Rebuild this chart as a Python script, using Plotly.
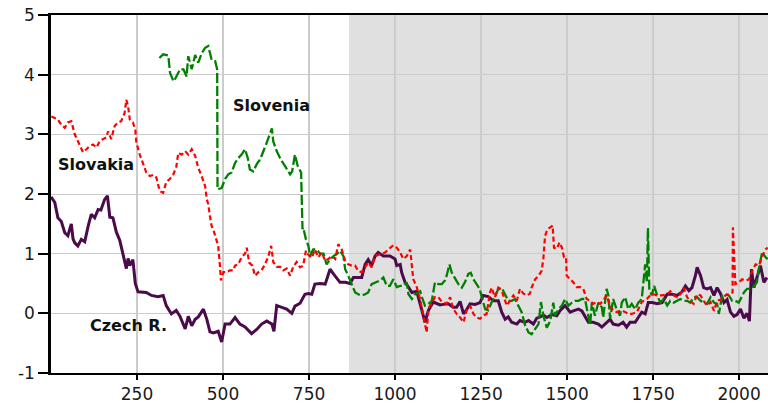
import plotly.graph_objects as go

# ---- data ----
cz_x = [0,11,20,30,40,49,59,64,69,78,88,98,108,117,127,137,145,156,164,171,180,190,200,209,219,224,229,238,245,253,262,277,292,311,326,335,350,364,375,390,399,409,419,428,443,453,462,472,486,496,506,520,535,549,564,583,598,612,627,642,648,656,671,685,700,709,724,738,748,758,767,782,797,811,821,830,840,855,869,879,893,903,913,922,932,942,951,966,985,1000,1005,1015,1019,1029,1039,1049,1063,1073,1082,1087,1097,1111,1121,1131,1140,1155,1169,1179,1189,1199,1208,1218,1233,1247,1256,1271,1286,1300,1310,1320,1329,1339,1354,1363,1378,1388,1402,1412,1422,1431,1441,1456,1470,1480,1494,1509,1518,1533,1543,1552,1562,1576,1591,1601,1615,1625,1634,1649,1663,1673,1683,1698,1707,1717,1727,1736,1747,1762,1776,1791,1805,1820,1834,1844,1854,1863,1873,1878,1888,1897,1907,1917,1927,1936,1946,1956,1965,1975,1985,1994,2004,2014,2023,2030,2036,2043,2052,2062,2072,2081]
cz_y = [1.95,1.86,1.6,1.54,1.35,1.3,1.5,1.25,1.18,1.13,1.24,1.2,1.46,1.66,1.6,1.74,1.73,1.91,1.97,1.61,1.6,1.36,1.22,1.02,0.75,0.92,0.8,0.9,0.5,0.36,0.36,0.35,0.3,0.28,0.3,0.13,-0.01,0.05,-0.05,-0.26,-0.05,-0.21,-0.1,-0.06,0.07,-0.1,-0.31,-0.33,-0.3,-0.48,-0.18,-0.18,-0.07,-0.18,-0.23,-0.34,-0.27,-0.18,-0.13,-0.18,-0.3,0.13,0.1,0.07,0.0,0.12,0.17,0.32,0.33,0.32,0.49,0.5,0.49,0.74,0.66,0.6,0.52,0.52,0.5,0.6,0.6,0.6,0.82,0.9,0.8,0.96,1.02,0.96,0.96,0.91,0.8,0.82,0.69,0.52,0.44,0.35,0.37,0.13,-0.04,-0.15,0.05,0.19,0.16,0.14,0.15,0.16,0.1,0.1,0.2,-0.01,0.06,0.16,0.15,0.18,0.3,0.28,0.21,0.21,0.02,-0.1,-0.06,-0.15,-0.18,-0.12,-0.15,-0.12,-0.18,-0.08,-0.06,-0.03,-0.07,-0.02,-0.04,0.05,0.13,0.02,0.04,0.07,0.04,-0.05,-0.15,-0.15,-0.18,-0.23,-0.15,-0.1,-0.18,-0.2,-0.15,-0.23,-0.15,-0.15,-0.07,0.02,-0.01,0.18,0.18,0.16,0.18,0.32,0.32,0.3,0.36,0.46,0.38,0.43,0.63,0.77,0.63,0.43,0.41,0.43,0.3,0.43,0.33,0.18,0.23,0.02,-0.05,-0.02,0.07,-0.08,0.0,-0.13,0.74,0.43,0.6,0.8,0.52,0.6]

sk_x = [1,11,20,30,40,49,59,69,78,88,93,103,112,122,132,142,151,161,166,175,185,195,204,214,219,224,229,238,245,248,258,267,277,287,297,306,316,326,335,345,355,364,370,380,390,399,409,419,428,438,448,453,457,462,467,472,482,486,491,494,501,511,520,530,535,544,554,564,569,576,585,593,603,612,622,632,640,646,656,666,675,685,695,704,714,724,733,741,748,758,767,777,787,797,806,816,826,835,845,855,864,874,884,893,903,913,922,932,942,956,971,980,995,1005,1015,1024,1034,1044,1049,1053,1063,1073,1082,1087,1092,1097,1107,1116,1126,1136,1150,1160,1169,1179,1189,1199,1208,1218,1228,1237,1247,1256,1266,1276,1281,1290,1300,1310,1320,1325,1334,1344,1354,1363,1373,1383,1392,1397,1407,1417,1426,1431,1436,1443,1451,1458,1462,1470,1478,1485,1491,1497,1499,1509,1518,1528,1538,1547,1557,1567,1576,1586,1596,1605,1615,1625,1634,1644,1659,1669,1678,1688,1703,1717,1732,1746,1760,1776,1791,1800,1810,1820,1829,1839,1849,1858,1868,1878,1888,1897,1907,1917,1927,1936,1951,1960,1970,1981,1982,1985,1988,1989,1999,2009,2019,2029,2038,2048,2058,2067,2077,2083]
sk_y = [3.3,3.28,3.25,3.16,3.11,3.2,3.22,3.0,2.89,2.78,2.7,2.75,2.8,2.83,2.78,2.89,2.92,2.95,3.05,2.92,3.14,3.2,3.22,3.36,3.58,3.47,3.25,3.2,3.08,2.87,2.66,2.52,2.36,2.3,2.32,2.28,2.05,2.02,2.2,2.25,2.32,2.45,2.69,2.66,2.72,2.66,2.75,2.64,2.44,2.3,2.13,1.91,1.83,1.63,1.46,1.4,1.21,1.13,0.8,0.55,0.69,0.69,0.72,0.72,0.8,0.82,0.94,1.0,1.1,0.85,0.8,0.63,0.69,0.72,0.82,0.96,1.13,0.86,0.78,0.78,0.72,0.75,0.63,0.78,0.86,0.77,0.8,1.05,0.98,0.93,1.07,0.94,1.02,0.88,0.91,0.96,0.91,1.16,1.07,0.88,0.82,0.8,0.8,0.71,0.69,0.77,0.85,0.77,0.96,0.99,1.02,1.07,1.14,1.1,1.02,0.91,0.96,1.07,0.8,0.57,0.44,0.24,-0.04,-0.21,-0.32,0.08,0.17,0.27,0.27,0.19,0.16,0.27,0.08,-0.01,-0.07,-0.15,0.05,0.13,-0.01,-0.07,-0.09,-0.04,-0.01,0.35,0.43,0.27,0.43,0.38,0.21,0.13,0.21,0.3,0.21,0.41,0.33,0.3,0.33,0.43,0.57,0.63,0.71,0.91,1.3,1.41,1.44,1.47,1.1,1.08,1.19,1.1,0.94,0.94,0.63,0.58,0.52,0.44,0.44,0.41,0.24,0.21,0.16,0.19,0.16,0.21,0.3,0.13,0.05,0.02,0.05,0.02,-0.01,-0.01,0.02,0.19,0.24,0.33,0.3,0.3,0.32,0.37,0.3,0.27,0.32,0.43,0.27,0.21,0.16,0.32,0.3,0.21,0.13,0.19,0.04,0.21,0.24,0.3,0.32,0.35,1.44,0.96,0.74,0.49,0.52,0.57,0.55,0.57,0.71,0.82,0.8,0.96,1.07,1.1]

si_x = [315,326,341,346,356,360,375,385,394,399,409,419,428,438,448,457,467,477,483,484,496,506,515,525,535,544,554,564,572,578,588,598,608,617,627,634,642,646,656,666,675,685,695,701,709,717,727,731,733,741,748,753,762,772,782,792,801,811,821,830,840,850,855,864,874,884,893,903,913,922,932,942,956,966,976,985,995,1005,1015,1024,1034,1039,1049,1058,1073,1078,1087,1097,1107,1116,1126,1136,1145,1150,1158,1165,1174,1184,1194,1203,1213,1220,1228,1237,1246,1252,1262,1271,1281,1290,1300,1310,1320,1329,1339,1349,1358,1368,1378,1388,1397,1407,1417,1424,1431,1441,1451,1460,1465,1475,1485,1494,1504,1514,1523,1533,1543,1552,1562,1567,1572,1581,1591,1601,1605,1615,1620,1625,1634,1644,1654,1659,1669,1678,1688,1698,1707,1717,1727,1732,1735,1739,1746,1753,1762,1771,1781,1791,1800,1810,1820,1829,1839,1849,1858,1868,1878,1888,1897,1907,1917,1927,1936,1941,1951,1960,1970,1980,1989,1999,2007,2014,2023,2033,2043,2052,2057,2067,2077,2083]
si_y = [4.28,4.34,4.32,4.03,3.89,3.92,4.09,4.09,3.97,4.31,4.09,4.33,4.2,4.36,4.45,4.48,4.25,4.23,4.09,2.08,2.1,2.25,2.33,2.36,2.52,2.6,2.66,2.75,2.6,2.41,2.38,2.5,2.58,2.7,2.86,2.97,3.1,2.88,2.72,2.6,2.52,2.44,2.33,2.38,2.66,2.47,2.36,1.41,1.44,1.24,1.13,0.96,1.07,1.07,1.0,1.0,0.82,0.9,0.96,0.99,1.05,0.96,0.74,0.63,0.49,0.35,0.32,0.3,0.32,0.35,0.49,0.52,0.55,0.6,0.46,0.46,0.57,0.44,0.46,0.46,0.52,0.32,0.24,0.32,0.37,0.27,0.13,0.16,0.21,0.52,0.49,0.49,0.55,0.63,0.82,0.68,0.6,0.49,0.43,0.52,0.66,0.68,0.57,0.49,0.41,0.27,0.07,0.05,0.19,0.27,0.41,0.43,0.32,0.21,0.21,0.24,0.13,0.02,-0.2,-0.32,-0.35,-0.27,-0.18,0.19,-0.04,-0.24,-0.13,0.18,-0.04,0.07,0.13,0.24,0.13,0.18,0.21,0.21,0.24,0.24,-0.04,-0.2,0.18,-0.04,0.18,0.1,-0.07,0.41,0.3,-0.09,0.24,0.07,-0.04,0.18,0.27,0.07,0.16,0.07,0.18,0.24,0.82,0.52,1.43,0.41,0.3,0.46,0.3,0.18,0.24,0.13,0.21,0.18,0.21,0.24,0.21,0.21,0.18,0.27,0.27,0.21,0.18,0.16,0.27,0.18,0.16,-0.01,0.3,0.32,0.3,0.21,0.21,0.18,0.27,0.35,0.41,0.41,0.46,0.52,0.74,1.02,0.94,0.91]

x_ticks = [250, 500, 750, 1000, 1250, 1500, 1750, 2000]
y_ticks = [-1, 0, 1, 2, 3, 4, 5]
shade_start = 866
labels = [("Slovenia", 640, 3.49), ("Slovakia", 131, 2.49), ("Czech R.", 225, -0.21)]

fig = go.Figure()
fig.add_trace(go.Scatter(x=cz_x, y=cz_y, mode="lines", name="Czech R.",
                         line=dict(color="#4b0b4b", width=3)))
fig.add_trace(go.Scatter(x=si_x, y=si_y, mode="lines", name="Slovenia",
                         line=dict(color="#008000", width=2.3, dash="10px,3px")))
fig.add_trace(go.Scatter(x=sk_x, y=sk_y, mode="lines", name="Slovakia",
                         line=dict(color="#ff0000", width=2.2, dash="5px,3px")))

fig.add_shape(type="rect", xref="x", yref="paper", x0=shade_start, x1=2084,
              y0=0, y1=1, fillcolor="#e0e0e0", line_width=0, layer="below")

for txt, lx, ly in labels:
    fig.add_annotation(x=lx, y=ly, text="<b>" + txt + "</b>", showarrow=False,
                       xanchor="center", yanchor="middle",
                       font=dict(family="DejaVu Sans", size=16, color="#111111"))

tickfont = dict(family="DejaVu Sans", size=17, color="#1a1a1a")
fig.update_layout(
    width=768, height=403,
    margin=dict(l=51, r=0, t=15, b=30),
    paper_bgcolor="white", plot_bgcolor="white",
    showlegend=False,
    xaxis=dict(range=[0, 2084], tickvals=x_ticks, ticktext=[str(v) for v in x_ticks],
               showgrid=True, gridcolor="#cccccc", gridwidth=1.5,
               showline=True, linecolor="black", linewidth=2, mirror=True,
               ticks="outside", ticklen=5, tickwidth=2, tickcolor="black",
               tickfont=tickfont, zeroline=False, automargin=False),
    yaxis=dict(range=[-1, 5], tickvals=y_ticks, ticktext=[str(v) for v in y_ticks],
               showgrid=True, gridcolor="#cccccc", gridwidth=1,
               showline=True, linecolor="black", linewidth=2.5,
               ticks="outside", ticklen=10, tickwidth=1.5, tickcolor="black",
               tickfont=tickfont, zeroline=False, automargin=False),
)

fig.write_html("out.html", config={"displayModeBar": False},
               post_script="document.body.style.margin='0';document.body.style.padding='0';")
